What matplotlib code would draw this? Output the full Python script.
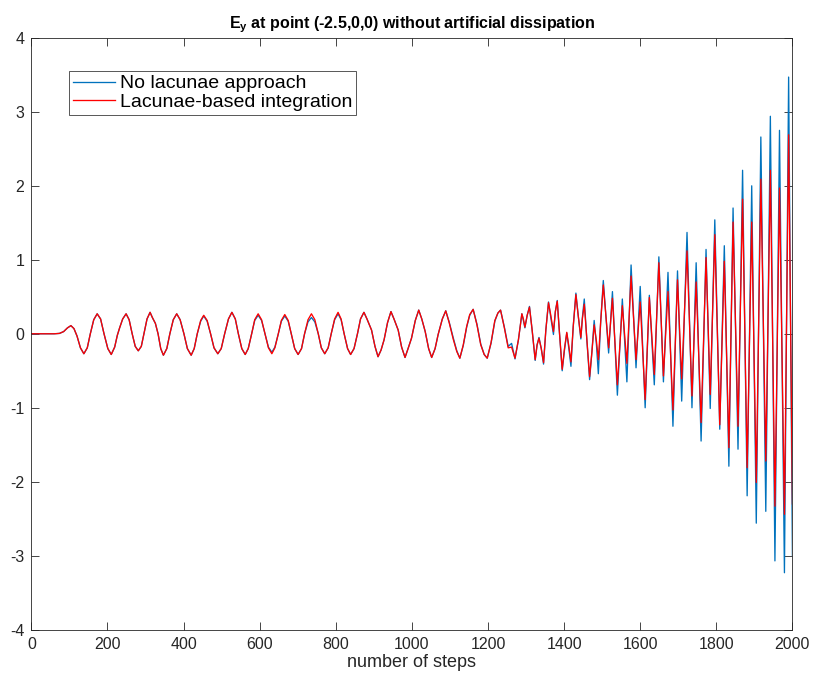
import matplotlib
matplotlib.use("Agg")
import matplotlib.pyplot as plt

# E_y values (extrema, shoulders and crossings)
steps_early = [0, 60, 74, 85, 95, 104, 112, 120, 129, 138, 147, 155, 164, 173, 182,
               191, 201, 210, 219, 226, 232, 240, 249, 257, 265, 273, 281, 289, 296,
               304, 312, 318, 326, 333, 340, 347, 356, 364, 373, 382, 391, 401, 410,
               420, 428, 436, 445, 453, 462, 471, 480, 490, 499, 508, 518, 527, 536,
               544, 553, 562, 570, 579, 587, 596, 605, 614, 623, 632, 640, 649, 657,
               666, 675, 683, 692, 701, 710, 718, 727, 736, 745, 754, 762, 771, 780,
               788, 797, 806, 814, 822, 831, 839, 848, 857, 865, 874, 882, 894, 903,
               911, 919, 927, 936, 945, 953, 964, 973, 982, 990, 999, 1009, 1018, 1026,
               1035, 1044, 1052, 1061, 1069, 1080, 1089, 1098, 1109, 1118, 1126, 1135,
               1144, 1152, 1161, 1171, 1181, 1190, 1198, 1208, 1218, 1226, 1233, 1243,
               1253, 1262, 1271, 1280, 1289]
ey_red_early = [0, 0, 0.005, 0.03, 0.08, 0.11, 0.07, -0.03, -0.19, -0.27, -0.19, 0.0,
                0.19, 0.27, 0.20, 0.0, -0.20, -0.28, -0.18, -0.02, 0.08, 0.20, 0.27,
                0.19, 0.0, -0.17, -0.23, -0.17, 0.0, 0.20, 0.29, 0.22, 0.14, 0.0, -0.20,
                -0.29, -0.20, 0.0, 0.19, 0.27, 0.19, 0.0, -0.20, -0.29, -0.20, 0.0, 0.18,
                0.25, 0.18, 0.0, -0.19, -0.27, -0.20, 0.0, 0.20, 0.29, 0.20, 0.0, -0.20,
                -0.28, -0.20, 0.0, 0.19, 0.27, 0.19, 0.0, -0.19, -0.27, -0.19, 0.0, 0.18,
                0.26, 0.18, 0.0, -0.20, -0.28, -0.20, 0.0, 0.19, 0.27, 0.19, 0.0, -0.19,
                -0.27, -0.19, 0.0, 0.20, 0.29, 0.20, 0.0, -0.20, -0.28, -0.20, 0.0, 0.20,
                0.29, 0.20, 0.05, -0.17, -0.31, -0.22, -0.08, 0.15, 0.30, 0.20, 0.05,
                -0.18, -0.32, -0.20, -0.06, 0.18, 0.32, 0.20, 0.03, -0.20, -0.32, -0.20,
                -0.01, 0.20, 0.31, 0.15, -0.08, -0.24, -0.33, -0.15, 0.10, 0.26, 0.33,
                0.12, -0.15, -0.28, -0.33, -0.12, 0.18, 0.28, 0.32, 0.08, -0.19, -0.18,
                -0.33, -0.08, 0.27]
ey_blue_early = [0, 0, 0.005, 0.03, 0.08, 0.11, 0.07, -0.03, -0.19, -0.27, -0.19, 0.0,
                 0.19, 0.27, 0.20, 0.0, -0.20, -0.28, -0.18, -0.02, 0.08, 0.20, 0.27,
                 0.19, 0.0, -0.17, -0.23, -0.17, 0.0, 0.20, 0.29, 0.22, 0.14, 0.0, -0.20,
                 -0.29, -0.20, 0.0, 0.19, 0.27, 0.19, 0.0, -0.20, -0.29, -0.20, 0.0, 0.17,
                 0.24, 0.17, 0.0, -0.19, -0.27, -0.20, 0.0, 0.20, 0.29, 0.20, 0.0, -0.20,
                 -0.28, -0.20, 0.0, 0.18, 0.25, 0.18, 0.0, -0.18, -0.25, -0.18, 0.0, 0.17,
                 0.24, 0.17, 0.0, -0.20, -0.28, -0.20, 0.0, 0.16, 0.22, 0.16, 0.0, -0.19,
                 -0.27, -0.19, 0.0, 0.19, 0.27, 0.19, 0.0, -0.20, -0.28, -0.20, 0.0, 0.20,
                 0.29, 0.20, 0.05, -0.17, -0.31, -0.22, -0.08, 0.15, 0.30, 0.20, 0.05,
                 -0.18, -0.32, -0.20, -0.06, 0.18, 0.32, 0.20, 0.03, -0.20, -0.32, -0.20,
                 -0.01, 0.20, 0.31, 0.16, -0.06, -0.23, -0.33, -0.16, 0.09, 0.25, 0.33,
                 0.13, -0.14, -0.28, -0.33, -0.13, 0.17, 0.28, 0.32, 0.09, -0.17, -0.13,
                 -0.34, -0.08, 0.27]

steps_late = [1293, 1297, 1303, 1309, 1316, 1324, 1329, 1334, 1340, 1346, 1352, 1359,
              1365, 1372, 1377, 1382, 1388, 1395, 1401, 1407, 1412, 1418, 1424, 1431,
              1437, 1444, 1448, 1453, 1460, 1467, 1473, 1479, 1485, 1490, 1496, 1503,
              1517, 1527, 1540, 1553, 1565, 1576, 1589, 1600, 1613, 1624, 1637, 1649,
              1661, 1673, 1686, 1698, 1709, 1723, 1736, 1747, 1760, 1773, 1784, 1796,
              1809, 1821, 1833, 1844, 1857, 1869, 1881, 1893, 1905, 1917, 1930, 1942,
              1954, 1966, 1979, 1990, 2000]
ey_red_late = [0.20, 0.09, 0.25, 0.36, 0.05, -0.35, -0.15, -0.06, -0.20, -0.39, 0.05,
               0.42, 0.25, 0.03, 0.30, 0.44, 0.0, -0.48, -0.20, 0.02, -0.15, -0.38, 0.10,
               0.53, 0.25, -0.05, 0.20, 0.40, -0.10, -0.58, -0.25, 0.12, -0.10, -0.35,
               0.15, 0.66, -0.19, 0.48, -0.69, 0.38, -0.40, 0.78, -0.35, 0.43, -0.89,
               0.49, -0.55, 0.96, -0.57, 0.57, -1.03, 0.73, -0.61, 1.12, -0.84, 0.70,
               -1.20, 1.03, -0.82, 1.34, -1.23, 0.98, -1.54, 1.51, -1.25, 1.82, -1.81,
               1.51, -2.01, 2.09, -1.72, 2.21, -2.33, 1.97, -2.44, 2.69, -2.30]
ey_blue_late = [0.18, 0.08, 0.25, 0.37, 0.05, -0.36, -0.15, -0.05, -0.20, -0.41, 0.05,
                0.43, 0.22, -0.01, 0.30, 0.45, 0.0, -0.50, -0.22, 0.01, -0.18, -0.44,
                0.10, 0.55, 0.25, -0.07, 0.22, 0.47, -0.10, -0.62, -0.25, 0.18, -0.15,
                -0.54, 0.15, 0.72, -0.26, 0.57, -0.83, 0.47, -0.65, 0.93, -0.46, 0.64,
                -1.00, 0.52, -0.69, 1.04, -0.65, 0.83, -1.25, 0.85, -0.91, 1.37, -1.00,
                0.96, -1.45, 1.14, -1.01, 1.54, -1.29, 1.19, -1.79, 1.70, -1.56, 2.21,
                -2.19, 2.00, -2.56, 2.66, -2.40, 2.94, -3.07, 2.75, -3.23, 3.47, -3.00]

x_ticks = list(range(0, 2001, 200))
y_ticks = list(range(-4, 5))

narrow = ["Liberation Sans Narrow", "Liberation Sans", "DejaVu Sans"]
plt.rcParams["font.family"] = ["Liberation Sans", "DejaVu Sans"]
plt.rcParams["axes.unicode_minus"] = False
axis_color = "#262626"

fig = plt.figure(figsize=(8.14, 6.76), dpi=100)
ax = fig.add_axes([0.0385, 0.0685, 0.935, 0.8755])

ax.plot(steps_early + steps_late, ey_blue_early + ey_blue_late, color="#0072BD",
        lw=0.95, label="No lacunae approach")
ax.plot(steps_early + steps_late, ey_red_early + ey_red_late, color="#FF0000",
        lw=0.95, label="Lacunae-based integration")

ax.set_xlim(0, 2000)
ax.set_ylim(-4, 4)
ax.set_xticks(x_ticks)
ax.set_yticks(y_ticks)
ax.tick_params(direction="in", top=True, right=True, length=5.5, width=0.6,
               colors=axis_color, labelsize=11.5)
ax.tick_params(axis="x", pad=5.5)
ax.tick_params(axis="y", pad=5)
for s in ax.spines.values():
    s.set_color(axis_color)
    s.set_linewidth(0.6)

ax.set_xlabel("number of steps", fontsize=13, color=axis_color, labelpad=1,
              family=narrow)
ax.set_title(r"E$_\mathregular{y}$ at point (-2.5,0,0) without artificial dissipation",
             fontsize=11.5, fontweight="bold", pad=7, family=narrow)

leg = ax.legend(loc="upper left", bbox_to_anchor=(0.049, 0.944), fontsize=14,
                fancybox=False, framealpha=1, edgecolor="#3c3c3c",
                handlelength=2.2, handletextpad=0.25, borderpad=0.2,
                labelspacing=0.05, borderaxespad=0)
leg.get_frame().set_linewidth(0.6)

fig.savefig("out.png", dpi=100)
